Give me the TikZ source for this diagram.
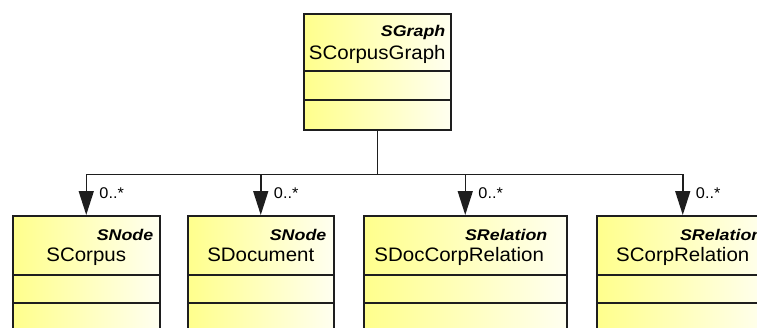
\documentclass[tikz,border=0pt]{standalone}
\usepackage{fontspec}
\setmainfont{Liberation Sans}[FakeStretch=1.05]
\newfontfamily\stereofont{Liberation Sans}[FakeStretch=1.15]
\usetikzlibrary{arrows.meta,calc}
\definecolor{umlyellow}{RGB}{255,255,140}
\definecolor{umllight}{RGB}{255,255,240}
\definecolor{umlline}{RGB}{30,30,30}
\begin{document}
\begin{tikzpicture}[x=1pt,y=-1pt,
  classbox/.style={draw=umlline, line width=1.5pt, rectangle, inner sep=0pt, anchor=north west,
    left color=umlyellow, middle color=umlyellow!80!umllight, right color=umllight},
  sepline/.style={draw=umlline, line width=1.5pt},
  conn/.style={draw=umlline, line width=1.5pt},
  headarrow/.style={-{Triangle[width=15pt,length=24pt]}},
  stereo/.style={inner sep=0pt, font=\fontsize{15.5}{18}\selectfont\stereofont\bfseries\itshape},
  cname/.style={inner sep=0pt, anchor=base, font=\fontsize{19.5}{23}\selectfont},
  mult/.style={inner sep=0pt, anchor=west, font=\fontsize{15.5}{18}\selectfont}
]
\useasboundingbox (0,0) rectangle (757,327);
\clip (0,0) rectangle (757,327);

% boxes
\node[classbox, minimum width=147pt, minimum height=116pt] (graph) at (303,13) {};
\node[classbox, minimum width=147pt, minimum height=140pt] (corpus) at (12,215) {};
\node[classbox, minimum width=146pt, minimum height=140pt] (document) at (187,215) {};
\node[classbox, minimum width=203pt, minimum height=140pt] (doccorp) at (363,215) {};
\node[classbox, minimum width=172pt, minimum height=140pt] (corprel) at (596,215) {};

% separators
\draw[sepline] ($(graph.north west)+(0,58)$) -- ($(graph.north east)+(0,58)$);
\draw[sepline] ($(graph.north west)+(0,87)$) -- ($(graph.north east)+(0,87)$);
\foreach \b in {corpus,document,doccorp,corprel}{
  \draw[sepline] ($(\b.north west)+(0,60)$) -- ($(\b.north east)+(0,60)$);
  \draw[sepline] ($(\b.north west)+(0,88)$) -- ($(\b.north east)+(0,88)$);
}

% texts
\node[stereo, anchor=base east] (graphst) at ($(graph.north east)+(-6,23)$) {SGraph};
\node[cname] (graphnm) at ($(graph.north)+(0,46.5)$) {SCorpusGraph};
\node[stereo, anchor=base east] (corpusst) at ($(corpus.north east)+(-7,25)$) {SNode};
\node[cname] (corpusnm) at ($(corpus.north)+(0,46.5)$) {SCorpus};
\node[stereo, anchor=base east] (documentst) at ($(document.north east)+(-8,25)$) {SNode};
\node[cname] (documentnm) at ($(document.north)+(0,46.5)$) {SDocument};
\node[stereo, anchor=base east] (doccorpst) at ($(doccorp.north east)+(-20,25)$) {SRelation};
\node[cname] (doccorpnm) at ($(doccorp.north)+(-6,46.5)$) {SDocCorpRelation};
\node[stereo, anchor=base east] (corprelst) at ($(corprel.north east)+(-7,25)$) {SRelation};
\node[cname] (corprelnm) at ($(corprel.north)+(0,46.5)$) {SCorpRelation};

% connectors
\coordinate (bus) at ($(graph.south)+(0,44)$);
\draw[conn] (graph.south) -- (bus);
\foreach \b in {corpus,document,doccorp,corprel}{
  \draw[conn, headarrow] (bus) -| (\b.north);
}

% multiplicities
\node[mult] (m1) at ($(corpus.north)+(13,-22)$) {0..*};
\node[mult] (m2) at ($(document.north)+(13,-22)$) {0..*};
\node[mult] (m3) at ($(doccorp.north)+(13,-22)$) {0..*};
\node[mult] (m4) at ($(corprel.north)+(13,-22)$) {0..*};
\end{tikzpicture}
\end{document}
